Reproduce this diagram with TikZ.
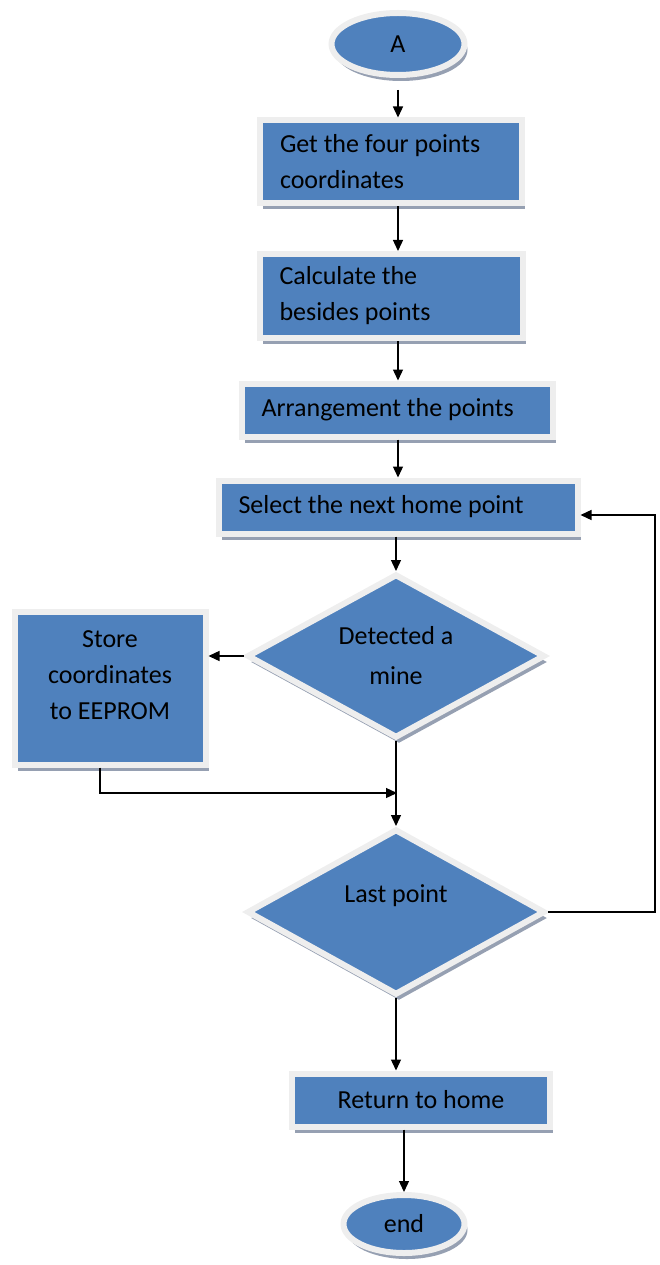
\documentclass[tikz,border=0pt]{standalone}
\usepackage{fontspec}
\setmainfont{Carlito}
\usetikzlibrary{shapes.geometric,shadows,arrows.meta}
\definecolor{fillblue}{RGB}{79,129,189}
\definecolor{rim}{RGB}{238,238,238}
\definecolor{shade}{RGB}{150,160,178}
\begin{document}
\begin{tikzpicture}[x=1pt,y=-1pt,
  base/.style={fill=fillblue, draw=rim, line width=6pt, inner sep=0pt,
    font=\fontsize{26}{36}\selectfont, text=black,
    drop shadow={shadow xshift=3pt, shadow yshift=-6pt, fill=shade, opacity=1}},
  boxl/.style={base, rectangle, align=flush left},
  boxc/.style={base, rectangle, align=flush center},
  oval/.style={base, ellipse},
  decide/.style={base, diamond, aspect=1.85, align=flush center},
  conn/.style={line width=1.3pt, -{Triangle[length=11pt,width=10pt]}}]
\useasboundingbox (0,0) rectangle (660,1265);

\node[oval, minimum width=133pt, minimum height=62pt] (A) at (398,44) {A};
\node[boxl, minimum width=262pt, minimum height=83pt, text width=222pt] (b1) at (391,162)
  {Get the four points\\coordinates};
\node[boxl, minimum width=263pt, minimum height=84pt, text width=223pt] (b2) at (391,296)
  {Calculate the\\besides points};
\node[boxl, minimum width=311pt, minimum height=53pt, text width=271pt] (b3) at (397,410)
  {Arrangement the points};
\node[boxl, minimum width=359pt, minimum height=53pt, text width=319pt] (b4) at (398,507)
  {Select the next home point};
\node[decide, minimum width=298pt, minimum height=164pt] (d1) at (396,656)
  {Detected a\\[4pt]mine};
\node[boxc, minimum width=191pt, minimum height=153pt, text width=180pt] (store) at (110,688)
  {Store\\coordinates\\to EEPROM\\[-10pt]\mbox{}};
\node[decide, minimum width=298pt, minimum height=166pt] (d2) at (396,912)
  {Last point\\[0pt]\mbox{}};
\node[boxc, minimum width=258pt, minimum height=53pt] (ret) at (421,1100)
  {Return to home};
\node[oval, minimum width=121pt, minimum height=58pt] (end) at (404,1224) {end};

\coordinate (j) at (397,793);
\coordinate (r) at (655,912);

\draw[conn, shorten <=12pt] (A.south) -- (A.south |- b1.north);
\draw[conn] (b1.south -| A.south) -- (b2.north -| A.south);
\draw[conn] (b2.south -| A.south) -- (b3.north -| A.south);
\draw[conn] (b3.south -| A.south) -- (b4.north -| A.south);
\draw[conn] (b4.south -| d1.north) -- (d1.north);
\draw[conn] (d1.west) -- (d1.west -| store.east);
\draw[conn] (d1.south) -- (d2.north);
\draw[conn] ([xshift=-10pt]store.south) |- (j);
\draw[conn] (d2.east) -- (r) |- ([yshift=-8pt]b4.east);
\draw[conn] (d2.south) -- (d2.south |- ret.north);
\draw[conn] (end.north |- ret.south) -- (end.north);
\end{tikzpicture}
\end{document}
